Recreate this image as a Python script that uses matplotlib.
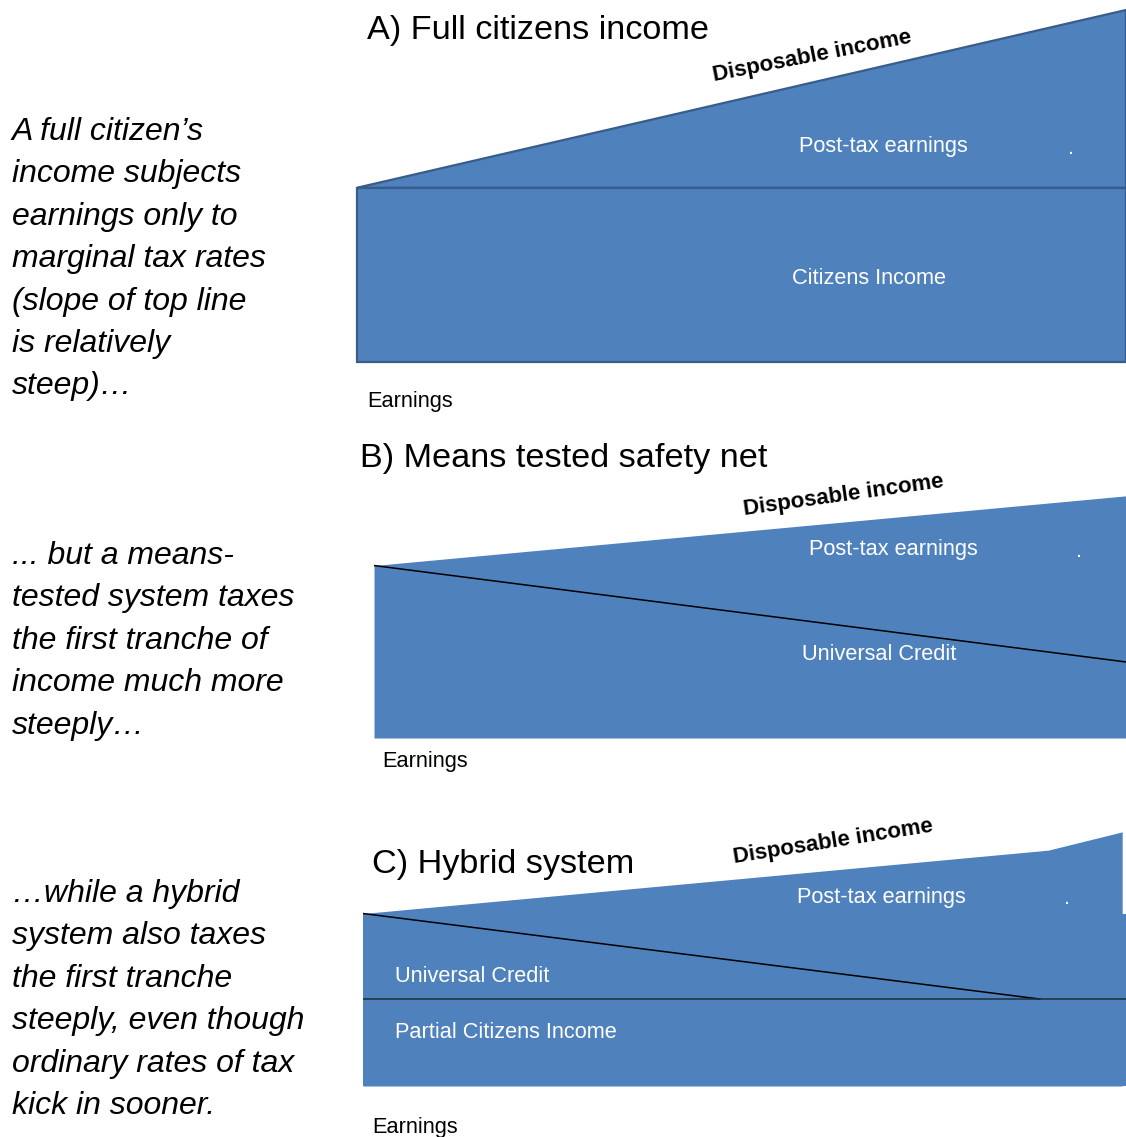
import numpy as np
import matplotlib.pyplot as plt
from matplotlib.patches import Polygon

plt.rcParams['font.family'] = ['Liberation Sans', 'DejaVu Sans']

W, H = 1126, 1137
FILL = '#4f81bd'
EDGE = '#385d8a'
PX_PER_UNIT = 3.52

# panel A: full citizens income
earn_a = [0, 100]
citizens_a = [49.5, 49.5]
disposable_a = [49.5, 100]

# panel B: means tested safety net
earn_b = [0, 100]
disposable_b = [49, 68.8]
uc_b = [49, 21.6]

# panel C: hybrid system
earn_c = [0, 89.8, 99.5]
disposable_c = [49, 67.0, 72.2]
uc_earn_c = [0, 88.7]
uc_c = [49, 24.7]
partial_ci_c = 24.7

notes_a = ["A full citizen’s", "income subjects", "earnings only to", "marginal tax rates",
           "(slope of top line", "is relatively", "steep)…"]
notes_b = ["... but a means-", "tested system taxes", "the first tranche of",
           "income much more", "steeply…"]
notes_c = ["…while a hybrid", "system also taxes", "the first tranche",
           "steeply, even though", "ordinary rates of tax", "kick in sooner."]


def panel(fig, left, right, bottom, ymax):
    top = bottom - ymax * PX_PER_UNIT
    ax = fig.add_axes([left / W, 1 - bottom / H, (right - left) / W, (bottom - top) / H])
    ax.set_xlim(0, 100)
    ax.set_ylim(0, ymax)
    ax.axis('off')
    return ax


def ftext(x, y, s, **kw):
    fig.text(x / W, 1 - y / H, s, **kw)


fig = plt.figure(figsize=(W / 100, H / 100), dpi=100)

# --- A ---
ax = panel(fig, 357, 1126, 362, 100)
ax.add_patch(Polygon([[earn_a[0], 0], [earn_a[1], 0], [earn_a[1], citizens_a[1]],
                      [earn_a[0], citizens_a[0]]], closed=True, facecolor=FILL,
                     edgecolor=EDGE, lw=1.6, clip_on=False))
ax.add_patch(Polygon([[earn_a[0], disposable_a[0]], [earn_a[1], disposable_a[1]],
                      [earn_a[1], citizens_a[1]]], closed=True, facecolor=FILL,
                     edgecolor=EDGE, lw=1.6, clip_on=False))

# --- B ---
ax = panel(fig, 374, 1126, 738, 70)
ax.fill_between(earn_b, 0, disposable_b, color=FILL, lw=0)
ax.plot(earn_b, uc_b, color='black', lw=1.1)

# --- C ---
ax = panel(fig, 363, 1126, 1086, 73)
ax.fill_between([0, 100], 0, disposable_c[0], color=FILL, lw=0)
ax.fill_between(earn_c, 0, disposable_c, color=FILL, lw=0)
ax.plot(uc_earn_c, uc_c, color='black', lw=1.1)
ax.plot([0, 100], [partial_ci_c, partial_ci_c], color='#1f2d3d', lw=1.1)

# titles
ftext(367, 30, 'A) Full citizens income', fontsize=24.7, va='center')
ftext(360, 459, 'B) Means tested safety net', fontsize=24.7, va='center')
ftext(372, 864, 'C) Hybrid system', fontsize=24.7, va='center')

# disposable income labels
for x, y, r in [(812, 56, 11), (844, 496, 8), (833, 842, 9)]:
    ftext(x, y, 'Disposable income', fontsize=16, fontweight='bold', rotation=r,
          rotation_mode='anchor', ha='center', va='center')

# white labels
wkw = dict(color='white', fontsize=15.7, va='center')
ftext(883, 147, 'Post-tax earnings', ha='center', **wkw)
ftext(1071, 149, '.', ha='center', **wkw)
ftext(869, 278, 'Citizens Income', ha='center', **wkw)
ftext(893, 550, 'Post-tax earnings', ha='center', **wkw)
ftext(1079, 551, '.', ha='center', **wkw)
ftext(879, 654, 'Universal Credit', ha='center', **wkw)
ftext(881, 898, 'Post-tax earnings', ha='center', **wkw)
ftext(1067, 899, '.', ha='center', **wkw)
ftext(395, 977, 'Universal Credit', ha='left', **wkw)
ftext(395, 1033, 'Partial Citizens Income', ha='left', **wkw)

# earnings labels
for x, y in [(367, 402), (382, 762), (372, 1127)]:
    ftext(x, y, 'Earnings', fontsize=15.7, va='center')

# side notes
for lines, y0 in [(notes_a, 132), (notes_b, 556), (notes_c, 894)]:
    for i, s in enumerate(lines):
        ftext(12, y0 + i * 42.4, s, fontsize=23, style='italic', va='center')

fig.savefig('out.png', dpi=100)
